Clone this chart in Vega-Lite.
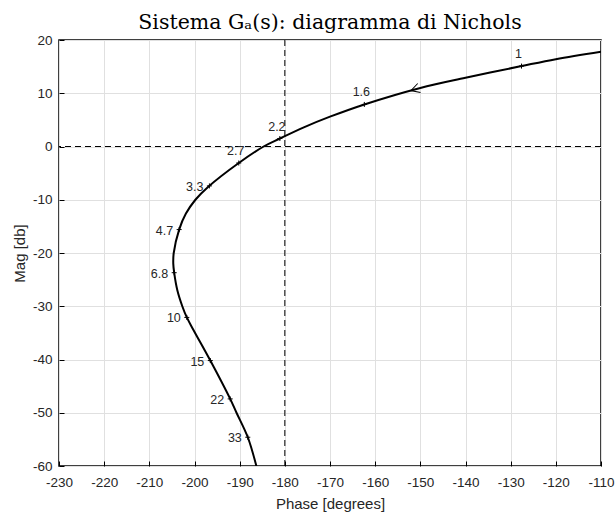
{
  "$schema": "https://vega.github.io/schema/vega-lite/v6.json",
  "width": 542,
  "height": 426,
  "autosize": "none",
  "padding": {"left": 59, "top": 40, "right": 15, "bottom": 46},
  "background": "white",
  "title": {"text": "Sistema Gₐ(s): diagramma di Nichols", "font": "DejaVu Serif", "fontSize": 20.5, "fontWeight": "normal", "color": "black", "offset": 0},
  "config": {
    "view": {"stroke": "black", "strokeWidth": 1.5},
    "axis": {
      "grid": true, "gridColor": "#e0e0e0", "gridWidth": 1, "domain": false,
      "tickColor": "black", "tickSize": -5,
      "labelFont": "Liberation Sans", "labelFontSize": 13.5, "labelColor": "#262626", "labelPadding": 12,
      "labelFlush": false, "labelOverlap": false, "labelBound": false,
      "titleFont": "Liberation Sans", "titleFontSize": 15, "titleFontWeight": "normal", "titleColor": "#262626",
      "titleBaseline": "middle", "titleAlign": "center",
      "labelExpr": "'' + datum.value"
    }
  },
  "datasets": {
    "curve": [
      {"i": 0, "phase": -110, "mag": 17.8},
      {"i": 1, "phase": -120, "mag": 16.4},
      {"i": 2, "phase": -127.6, "mag": 15.1},
      {"i": 3, "phase": -140, "mag": 12.9},
      {"i": 4, "phase": -150, "mag": 11.0},
      {"i": 5, "phase": -162.4, "mag": 7.9},
      {"i": 6, "phase": -170, "mag": 5.6},
      {"i": 7, "phase": -175.8, "mag": 3.6},
      {"i": 8, "phase": -181.1, "mag": 1.5},
      {"i": 9, "phase": -184.7, "mag": 0},
      {"i": 10, "phase": -190.2, "mag": -3.1},
      {"i": 11, "phase": -197, "mag": -7.6},
      {"i": 12, "phase": -199.8, "mag": -10},
      {"i": 13, "phase": -201.9, "mag": -12.6},
      {"i": 14, "phase": -203.4, "mag": -15.6},
      {"i": 15, "phase": -204.6, "mag": -20},
      {"i": 16, "phase": -204.7, "mag": -22},
      {"i": 17, "phase": -204.5, "mag": -23.7},
      {"i": 18, "phase": -203.8, "mag": -27},
      {"i": 19, "phase": -202.7, "mag": -30},
      {"i": 20, "phase": -201.7, "mag": -32.1},
      {"i": 21, "phase": -200.2, "mag": -34.5},
      {"i": 22, "phase": -196.5, "mag": -40.2},
      {"i": 23, "phase": -192.1, "mag": -47.4},
      {"i": 24, "phase": -190.7, "mag": -50},
      {"i": 25, "phase": -188.2, "mag": -54.6},
      {"i": 26, "phase": -186.3, "mag": -60}
    ],
    "marks": [
      {"w": 1, "label": "1", "phase": -127.6, "mag": 15.1},
      {"w": 1.6, "label": "1.6", "phase": -162.4, "mag": 7.9},
      {"w": 2.2, "label": "2.2", "phase": -181.1, "mag": 1.5},
      {"w": 2.7, "label": "2.7", "phase": -190.2, "mag": -3.1},
      {"w": 3.3, "label": "3.3", "phase": -196.7, "mag": -7.4},
      {"w": 4.7, "label": "4.7", "phase": -203.4, "mag": -15.6},
      {"w": 6.8, "label": "6.8", "phase": -204.5, "mag": -23.7},
      {"w": 10, "label": "10", "phase": -201.7, "mag": -32.1},
      {"w": 15, "label": "15", "phase": -196.5, "mag": -40.2},
      {"w": 22, "label": "22", "phase": -192.1, "mag": -47.4},
      {"w": 33, "label": "33", "phase": -188.2, "mag": -54.6}
    ]
  },
  "layer": [
    {
      "data": {"values": [{"phase": -180}]},
      "mark": {"type": "rule", "color": "black", "strokeWidth": 1, "strokeDash": [6, 4]},
      "encoding": {
        "x": {"field": "phase", "type": "quantitative", "scale": {"domain": [-230, -110], "nice": false, "zero": false},
              "axis": {"title": "Phase [degrees]", "titleX": 271, "titleY": 37, "labelPadding": 14, "values": [-230,-220,-210,-200,-190,-180,-170,-160,-150,-140,-130,-120,-110]}}
      }
    },
    {
      "data": {"values": [{"mag": 0}]},
      "mark": {"type": "rule", "color": "black", "strokeWidth": 1, "strokeDash": [6, 4]},
      "encoding": {
        "y": {"field": "mag", "type": "quantitative", "scale": {"domain": [-60, 20], "nice": false, "zero": false},
              "axis": {"title": "Mag [db]", "titleX": -40, "titleY": 213, "values": [-60,-50,-40,-30,-20,-10,0,10,20]}}
      }
    },
    {
      "data": {"name": "curve"},
      "mark": {"type": "line", "color": "black", "strokeWidth": 2, "interpolate": "catmull-rom", "clip": true},
      "encoding": {
        "x": {"field": "phase", "type": "quantitative", "scale": {"domain": [-230, -110], "nice": false, "zero": false}},
        "y": {"field": "mag", "type": "quantitative", "scale": {"domain": [-60, 20], "nice": false, "zero": false}},
        "order": {"field": "i", "type": "quantitative"}
      }
    },
    {
      "data": {"values": [{"phase": -152.1, "mag": 10.5}]},
      "mark": {"type": "point", "shape": "M1,-0.55L0,0L1,0.55", "size": 300, "filled": false, "stroke": "black", "strokeWidth": 1, "angle": 343, "opacity": 1},
      "encoding": {
        "x": {"field": "phase", "type": "quantitative"},
        "y": {"field": "mag", "type": "quantitative"}
      }
    },
    {
      "data": {"name": "marks"},
      "mark": {"type": "point", "shape": "M-1,0L1,0M0,-1L0,1", "size": 25, "filled": false, "stroke": "black", "strokeWidth": 1, "opacity": 1},
      "encoding": {
        "x": {"field": "phase", "type": "quantitative"},
        "y": {"field": "mag", "type": "quantitative"}
      }
    },
    {
      "data": {"name": "marks"},
      "transform": [{"filter": "datum.w <= 2.7"}],
      "mark": {"type": "text", "font": "Liberation Sans", "fontSize": 12.5, "fill": "#262626", "align": "center", "baseline": "middle", "dx": -3, "dy": -12},
      "encoding": {
        "x": {"field": "phase", "type": "quantitative"},
        "y": {"field": "mag", "type": "quantitative"},
        "text": {"field": "label"}
      }
    },
    {
      "data": {"name": "marks"},
      "transform": [{"filter": "datum.w > 2.7"}],
      "mark": {"type": "text", "font": "Liberation Sans", "fontSize": 12.5, "fill": "#262626", "align": "right", "baseline": "middle", "dx": -6, "dy": 1},
      "encoding": {
        "x": {"field": "phase", "type": "quantitative"},
        "y": {"field": "mag", "type": "quantitative"},
        "text": {"field": "label"}
      }
    }
  ]
}
